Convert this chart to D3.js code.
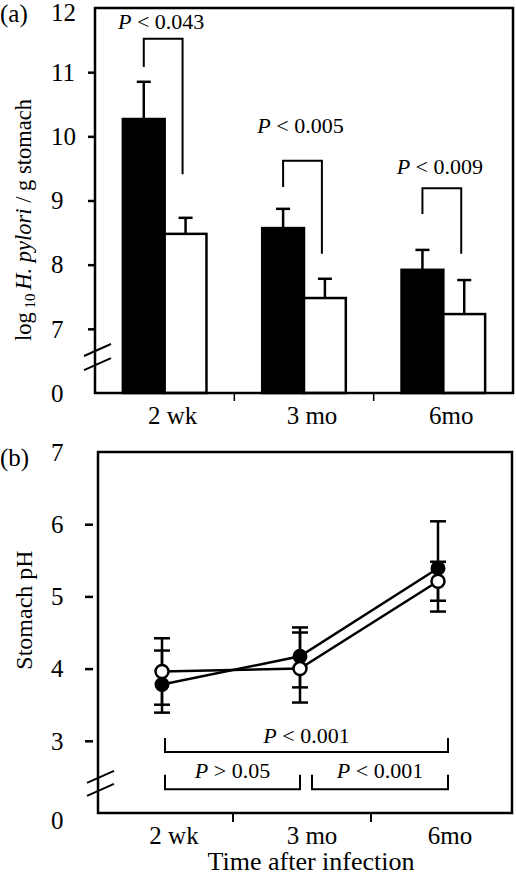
<!DOCTYPE html>
<html><head><meta charset="utf-8">
<script src="https://cdn.jsdelivr.net/npm/d3@7"></script>
<style>html,body{margin:0;padding:0;background:#fff;}svg{display:block;}</style>
</head><body>
<script>
// ---------- data ----------
const categories = ["2 wk", "3 mo", "6mo"];
// panel (a): log10 H. pylori / g stomach
const barBlack = [10.27, 8.57, 7.92];
const barBlackErr = [0.58, 0.30, 0.31];
const barWhite = [8.48, 7.48, 7.23];
const barWhiteErr = [0.25, 0.30, 0.53];
const pLabelsA = ["0.043", "0.005", "0.009"];
const bracketTopA = [11.52, 9.62, 9.19];
const bracketLeftEndA = [11.08, 9.21, 8.79];
const bracketRightEndA = [9.41, 8.17, 8.17];
const pTextYA = [11.67, 10.05, 9.41];
const yTicksA = [6, 7, 8, 9, 10, 11, 12];
const yTickLabelsA = ["0", "7", "8", "9", "10", "11", "12"];
// panel (b): stomach pH
const phFilled = [3.78, 4.17, 5.39];
const phFilledLo = [3.39, 3.74, 4.79];
const phFilledHi = [4.25, 4.57, 6.04];
const phOpen = [3.96, 4.00, 5.21];
const phOpenLo = [3.50, 3.53, 4.94];
const phOpenHi = [4.42, 4.50, 5.48];
const yTicksB = [2, 3, 4, 5, 6, 7];
const yTickLabelsB = ["0", "3", "4", "5", "6", "7"];
const compFrom = [0, 0, 1];
const compTo = [2, 1, 2];
const compSign = ["<", ">", "<"];
const compValue = ["0.001", "0.05", "0.001"];
const compLine = [2.845, 2.33, 2.33];
const compLeg = [3.04, 2.53, 2.53];
const compText = [2.97, 2.48, 2.48];

// ---------- drawing ----------
const W = 516, H = 878;
const FONT = "'Liberation Serif','Times New Roman',serif";
const svg = d3.select("body").append("svg").attr("width", W).attr("height", H)
  .style("font-family", FONT);

function bracket(g, x1, x2, yLine, yL, yR, sw) {
  g.append("path")
    .attr("d", `M${x1},${yL}V${yLine}H${x2}V${yR}`)
    .attr("fill", "none").attr("stroke", "#000").attr("stroke-width", sw);
}
function pText(g, x, y, sign, val, size) {
  const t = g.append("text").attr("x", x).attr("y", y).attr("text-anchor", "middle")
    .attr("font-size", size);
  t.append("tspan").attr("font-style", "italic").text("P");
  t.append("tspan").text(" " + sign + " " + val);
}
function breakMarks(g, x, y1, y2) {
  [y1, y2].forEach(y => {
    g.append("line").attr("x1", x - 11).attr("y1", y + 6).attr("x2", x + 16).attr("y2", y - 6)
      .attr("stroke", "#000").attr("stroke-width", 2);
  });
}

// ===== Panel (a) =====
const A = { l: 95, r: 513, t: 8, b: 393 };
const yA = d3.scaleLinear().domain([6, 12]).range([A.b, A.t]);
const xA = d3.scaleBand().domain(categories).range([A.l, A.r]).paddingInner(0.4).paddingOuter(0.2);
const xA1 = d3.scaleBand().domain(["black", "white"]).range([0, xA.bandwidth()]);
const ga = svg.append("g");

const axA = d3.axisLeft(yA).tickValues(yTicksA).tickFormat((d, i) => yTickLabelsA[i]).tickSize(0);
const aA = ga.append("g").call(axA);
aA.select(".domain").remove();
aA.selectAll(".tick text").attr("font-family", FONT).attr("font-size", 25).attr("fill", "#000")
  .attr("text-anchor", "start").attr("x", 51).attr("dy", d => d === 12 ? "0.5em" : "0.33em");
aA.selectAll(".tick").filter(d => d !== 6 && d !== 12).append("line")
  .attr("x1", A.l - 7).attr("x2", A.l).attr("stroke", "#000").attr("stroke-width", 2.5);

// bars
const barsData = categories.map((c, i) => [
  { cat: c, s: "black", v: barBlack[i], e: barBlackErr[i] },
  { cat: c, s: "white", v: barWhite[i], e: barWhiteErr[i] }
]).flat();
barsData.forEach(d => {
  const cx = xA(d.cat) + xA1(d.s) + xA1.bandwidth() / 2;
  ga.append("line").attr("x1", cx).attr("x2", cx).attr("y1", yA(d.v)).attr("y2", yA(d.v + d.e))
    .attr("stroke", "#000").attr("stroke-width", 2.5);
  ga.append("line").attr("x1", cx - 7).attr("x2", cx + 7).attr("y1", yA(d.v + d.e)).attr("y2", yA(d.v + d.e))
    .attr("stroke", "#000").attr("stroke-width", 2.5);
});
ga.selectAll("rect.bar").data(barsData).join("rect").attr("class", "bar")
  .attr("x", d => xA(d.cat) + xA1(d.s))
  .attr("width", xA1.bandwidth())
  .attr("y", d => yA(d.v))
  .attr("height", d => yA(6) - yA(d.v))
  .attr("fill", d => d.s === "black" ? "#000" : "#fff")
  .attr("stroke", "#000").attr("stroke-width", 2.5);

// brackets (a)
categories.forEach((c, i) => {
  const x1 = xA(c) + xA1("black") + xA1.bandwidth() / 2;
  const x2 = xA(c) + xA1("white") + xA1.bandwidth() / 2 - 3;
  bracket(ga, x1, x2, yA(bracketTopA[i]), yA(bracketLeftEndA[i]), yA(bracketRightEndA[i]), 2);
  pText(ga, (x1 + x2) / 2 - 2, yA(pTextYA[i]), "<", pLabelsA[i], 22);
});

// frame
ga.append("rect").attr("x", A.l).attr("y", A.t).attr("width", A.r - A.l).attr("height", A.b - A.t)
  .attr("fill", "none").attr("stroke", "#000").attr("stroke-width", 2.5);
categories.slice(1).forEach(c => {
  const x = xA(c) - xA.step() * xA.paddingInner() / 2;
  ga.append("line").attr("x1", x).attr("x2", x).attr("y1", A.b).attr("y2", A.b + 8)
    .attr("stroke", "#000").attr("stroke-width", 1.5);
});
const gxA = ga.append("g").attr("transform", `translate(8,${A.b})`).call(d3.axisBottom(xA).tickSize(0).tickPadding(0));
gxA.select(".domain").remove();
gxA.selectAll(".tick text").attr("font-family", FONT).attr("font-size", 25).attr("fill", "#000")
  .attr("dy", null).attr("y", 31);
breakMarks(ga, A.l, yA(6.67), yA(6.45));
const yla = ga.append("text").attr("transform", `translate(31,${220}) rotate(-90)`)
  .attr("text-anchor", "middle").attr("font-size", 22.5);
yla.append("tspan").text("log");
yla.append("tspan").attr("font-size", 15).attr("dy", 4).text(" 10 ");
yla.append("tspan").attr("dy", -4).attr("font-style", "italic").text("H. pylori");
yla.append("tspan").text(" / g stomach");
svg.append("text").attr("x", 0).attr("y", 22).attr("font-size", 25).text("(a)");

// ===== Panel (b) =====
const B = { l: 98, r: 512, t: 452, b: 813 };
const yB = d3.scaleLinear().domain([2, 7]).range([B.b, B.t]);
const xB = d3.scaleBand().domain(categories).range([B.l, B.r]);
const px = c => xB(c) + xB.bandwidth() / 2 - 5;
const gb = svg.append("g");
const aB = gb.append("g").call(d3.axisLeft(yB).tickValues(yTicksB)
  .tickFormat((d, i) => yTickLabelsB[i]).tickSize(0));
aB.select(".domain").remove();
aB.selectAll(".tick text").attr("font-family", FONT).attr("font-size", 25).attr("fill", "#000")
  .attr("text-anchor", "start").attr("x", 51).attr("dy", d => d === 2 ? "0.6em" : "0.33em");
aB.selectAll(".tick").filter(d => d !== 2 && d !== 7).append("line")
  .attr("x1", B.l - 13).attr("x2", B.l - 5).attr("stroke", "#000").attr("stroke-width", 2.5);

gb.append("rect").attr("x", B.l).attr("y", B.t).attr("width", B.r - B.l).attr("height", B.b - B.t)
  .attr("fill", "none").attr("stroke", "#000").attr("stroke-width", 2.5);
categories.slice(1).forEach(c => {
  const x = xB(c) - 3;
  gb.append("line").attr("x1", x).attr("x2", x).attr("y1", B.b).attr("y2", B.b + 9)
    .attr("stroke", "#000").attr("stroke-width", 2);
});
const gxB = gb.append("g").attr("transform", `translate(7,${B.b})`).call(d3.axisBottom(xB).tickSize(0).tickPadding(0));
gxB.select(".domain").remove();
gxB.selectAll(".tick text").attr("font-family", FONT).attr("font-size", 25).attr("fill", "#000")
  .attr("dy", null).attr("y", 31);
breakMarks(gb, B.l, yB(2.5), yB(2.32));

const filled = categories.map((c, i) => ({ c, v: phFilled[i], lo: phFilledLo[i], hi: phFilledHi[i] }));
const open = categories.map((c, i) => ({ c, v: phOpen[i], lo: phOpenLo[i], hi: phOpenHi[i] }));
[filled, open].forEach(series => {
  series.forEach(d => {
    const x = px(d.c);
    gb.append("line").attr("x1", x).attr("x2", x).attr("y1", yB(d.lo)).attr("y2", yB(d.hi))
      .attr("stroke", "#000").attr("stroke-width", 2.5);
    [d.lo, d.hi].forEach(v => gb.append("line").attr("x1", x - 8).attr("x2", x + 8)
      .attr("y1", yB(v)).attr("y2", yB(v)).attr("stroke", "#000").attr("stroke-width", 2.5));
  });
});
const line = d3.line().x(d => px(d.c)).y(d => yB(d.v));
[filled, open].forEach(series => {
  gb.append("path").datum(series).attr("d", line).attr("fill", "none")
    .attr("stroke", "#000").attr("stroke-width", 2.5);
});
gb.selectAll("circle.f").data(filled).join("circle").attr("class", "f")
  .attr("cx", d => px(d.c)).attr("cy", d => yB(d.v)).attr("r", 6.5)
  .attr("fill", "#000").attr("stroke", "#000").attr("stroke-width", 2);
gb.selectAll("circle.o").data(open).join("circle").attr("class", "o")
  .attr("cx", d => px(d.c)).attr("cy", d => yB(d.v)).attr("r", 6.5)
  .attr("fill", "#fff").attr("stroke", "#000").attr("stroke-width", 2.5);

compFrom.forEach((f, i) => {
  const t = compTo[i];
  const cx = c => xB(c) + xB.bandwidth() / 2;
  const x1 = cx(categories[f]) + (f === 1 ? 7 : -2);
  const x2 = cx(categories[t]) + (t === 1 ? -5 : 5);
  bracket(gb, x1, x2, yB(compLine[i]), yB(compLeg[i]), yB(compLeg[i]), 2);
  pText(gb, (x1 + x2) / 2, yB(compText[i]), compSign[i], compValue[i], 22);
});

svg.append("text").attr("transform", `translate(32,610) rotate(-90)`).attr("text-anchor", "middle")
  .attr("font-size", 24).text("Stomach pH");
svg.append("text").attr("x", 0).attr("y", 466).attr("font-size", 25).text("(b)");
svg.append("text").attr("x", 311).attr("y", 870).attr("text-anchor", "middle")
  .attr("font-size", 26).text("Time after infection");
</script>
</body></html>
